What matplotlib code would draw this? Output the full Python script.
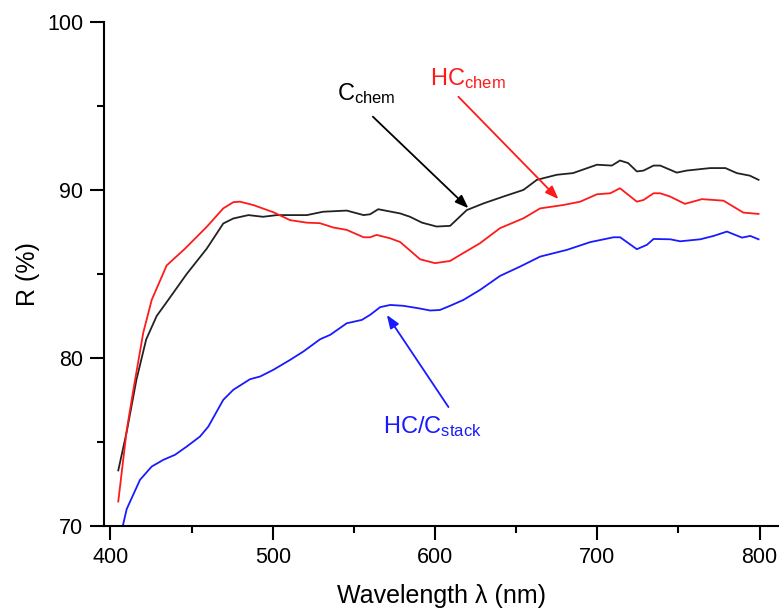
import matplotlib
matplotlib.use("Agg")
import matplotlib.pyplot as plt

plt.rcParams['font.family'] = ['Liberation Sans', 'DejaVu Sans']
plt.rcParams['mathtext.fontset'] = 'custom'
plt.rcParams['mathtext.rm'] = 'Liberation Sans'
plt.rcParams['mathtext.it'] = 'Liberation Sans'

# C_chem (black)
c_x = [404.8, 410, 416, 422, 428.5, 435.6, 447, 459.3, 469.5, 475.7, 485, 494, 502.5, 521, 531,
       545.6, 556, 560, 565, 578.5, 584.6, 592, 601, 609.3, 619.6, 630, 642, 654.5, 662.8, 675,
       685, 699.8, 709, 714, 719, 724.4, 728.5, 734.7, 738.8, 749, 755, 769.6, 779, 786, 794, 799.4]
c_y = [73.3, 75.6, 78.7, 81.1, 82.5, 83.45, 85.0, 86.5, 88.0, 88.3, 88.5, 88.4, 88.5, 88.5, 88.7,
       88.77, 88.5, 88.55, 88.85, 88.6, 88.4, 88.05, 87.82, 87.86, 88.8, 89.2, 89.6, 90.0, 90.6, 90.9,
       91.0, 91.5, 91.45, 91.75, 91.6, 91.1, 91.15, 91.45, 91.45, 91.03, 91.15, 91.3, 91.3, 91.0, 90.85, 90.6]

# HC_chem (red)
h_x = [404.8, 410, 414.1, 420.2, 425.4, 434.6, 445.9, 459.3, 469.5, 475.7, 479.8, 488, 500.4, 510.7,
       521, 529, 537.4, 545.6, 556, 560, 564, 572.3, 578.5, 590.8, 600, 609.3, 615.5, 627.8, 640,
       654.5, 664.8, 679, 689.5, 699.8, 708, 714, 724.4, 728.5, 734.7, 738.8, 745, 754, 764.5,
       777.8, 790, 799.4]
h_y = [71.45, 75.7, 78.1, 81.5, 83.45, 85.5, 86.5, 87.8, 88.9, 89.27, 89.3, 89.1, 88.67, 88.2,
       88.05, 88.02, 87.76, 87.62, 87.18, 87.18, 87.32, 87.12, 86.9, 85.87, 85.64, 85.77, 86.13, 86.83, 87.72,
       88.31, 88.9, 89.1, 89.3, 89.74, 89.8, 90.1, 89.3, 89.4, 89.8, 89.8, 89.6, 89.17, 89.45,
       89.36, 88.65, 88.57]

# HC/C_stack (blue)
s_x = [407.5, 410, 418.2, 425.4, 432.6, 439.8, 447, 455.2, 460.3, 469.5, 475.7, 486, 492.2, 500.4,
       510.7, 518.9, 529.2, 535.4, 545.6, 554.9, 560, 566.2, 572.4, 580.5, 590, 597, 603, 609.3, 617.5,
       627.8, 640.1, 652.5, 664.8, 681.3, 695.6, 710, 714.1, 724.4, 730.6, 734.7, 745, 751.1, 763.5,
       771.7, 779.9, 789.2, 794.3, 799.4]
s_y = [69.96, 71.0, 72.74, 73.53, 73.93, 74.23, 74.72, 75.32, 75.91, 77.5, 78.1, 78.73, 78.89, 79.29,
       79.88, 80.38, 81.11, 81.37, 82.06, 82.26, 82.56, 83.02, 83.15, 83.1, 82.95, 82.82, 82.85, 83.1, 83.45,
       84.05, 84.88, 85.44, 86.03, 86.43, 86.89, 87.18, 87.18, 86.47, 86.73, 87.08, 87.06, 86.94, 87.06,
       87.26, 87.52, 87.16, 87.26, 87.06]

x_ticks = [400, 500, 600, 700, 800]
y_ticks = [70, 80, 90, 100]

fig = plt.figure(figsize=(7.79, 6.10), dpi=100)
ax = fig.add_axes([0.1335, 0.138, 0.8665, 0.826])

ax.plot(c_x, c_y, color='#222222', lw=1.3)
ax.plot(h_x, h_y, color='#ff1a1a', lw=1.3)
ax.plot(s_x, s_y, color='#1a1aff', lw=1.3)

ax.set_xlim(396, 812)
ax.set_ylim(70, 100)
ax.set_xticks(x_ticks)
ax.set_yticks(y_ticks)
ax.set_xticks([450, 550, 650, 750], minor=True)
ax.set_yticks([75, 85, 95], minor=True)
ax.tick_params(which='major', direction='out', length=10, width=1.5, labelsize=15.5, pad=5)
ax.tick_params(which='minor', direction='out', length=5, width=1.5)
for s in ['top', 'right']:
    ax.spines[s].set_visible(False)
for s in ['left', 'bottom']:
    ax.spines[s].set_linewidth(1.5)

ax.set_xlabel('Wavelength λ (nm)', fontsize=18, labelpad=12)
ax.set_ylabel('R (%)', fontsize=18, labelpad=5)

ax.text(539.6, 95.36, r'C$_\mathrm{chem}$', fontsize=17, color='black', ha='left', va='baseline')
ax.text(597, 96.25, r'HC$_\mathrm{chem}$', fontsize=17, color='#ff1a1a', ha='left', va='baseline')
ax.text(568, 75.54, r'HC/C$_\mathrm{stack}$', fontsize=17, color='#1a1aff', ha='left', va='baseline')

ap = dict(arrowstyle='-|>,head_length=0.8,head_width=0.3', lw=1.3, shrinkA=0, shrinkB=0)
ax.annotate('', xy=(620.6, 88.91), xytext=(561.7, 94.36), arrowprops=dict(ap, color='black'))
ax.annotate('', xy=(676.1, 89.45), xytext=(614.4, 95.55), arrowprops=dict(ap, color='#ff1a1a'))
ax.annotate('', xy=(570.3, 82.56), xytext=(608.3, 77.07), arrowprops=dict(ap, color='#1a1aff'))

fig.savefig('out.png', dpi=100)
